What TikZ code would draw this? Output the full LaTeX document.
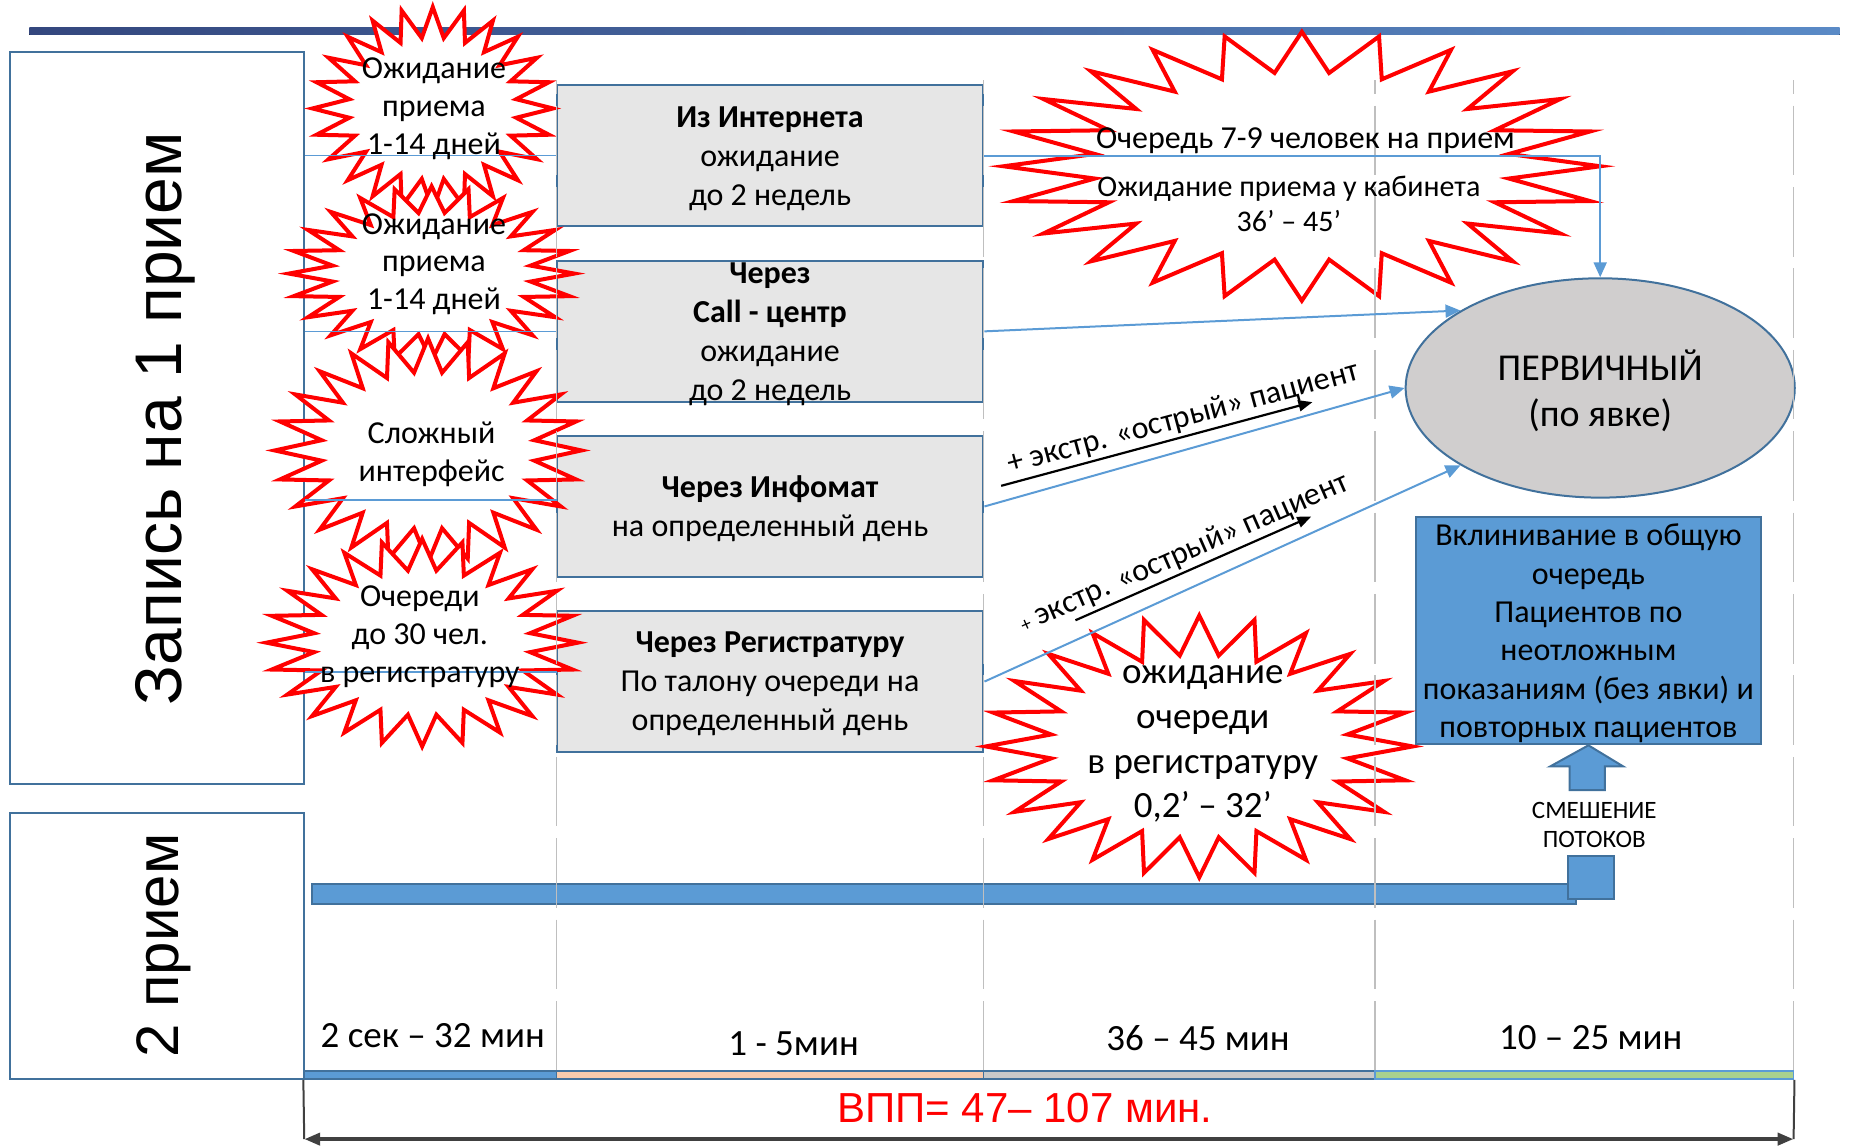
\documentclass[tikz,border=0pt]{standalone}
\usepackage{fontspec}
\setmainfont{Carlito}
\newfontfamily\arialfont{Liberation Sans}
\usepackage{tikz}
\usetikzlibrary{shapes,shapes.geometric,calc,arrows.meta,positioning}

\newcommand\px{0.5896pt}
\definecolor{frameblue}{HTML}{41719C}
\definecolor{fillblue}{HTML}{5B9BD5}
\definecolor{boxgray}{HTML}{E6E6E6}
\definecolor{ovalgray}{HTML}{D0CECE}
\definecolor{gridgray}{HTML}{BFBFBF}
\definecolor{peach}{HTML}{F8CBAD}
\definecolor{midgray}{HTML}{C9C9C9}
\definecolor{lightgreen}{HTML}{A9D18E}
\definecolor{rulenavy}{HTML}{34477E}
\definecolor{ruleblue}{HTML}{5A8AC6}
\definecolor{bracketgray}{HTML}{404040}

% 24-point star: center x, center y, x radius, y radius
\newcommand\burst[4]{%
  \draw[burst] (#1,{#2+#4})
    \foreach \i in {1,...,47}{
      -- ({#1+(1-0.3*mod(\i,2))*#3*cos(90+7.5*\i)},{#2+(1-0.3*mod(\i,2))*#4*sin(90+7.5*\i)})
    } -- cycle;}

\tikzset{
  sidebox/.style={draw=frameblue, line width=1pt, fill=white, minimum width=249.6*\px, inner sep=0pt},
  sidetext/.style={rotate=90, inner sep=0pt, font=\arialfont\fontsize{33}{40}\selectfont},
  rowbox/.style={draw=frameblue, line width=1pt, fill=boxgray, minimum width=362*\px, minimum height=120*\px, align=center, inner sep=0pt, text depth=0pt, font=\fontsize{16}{19.5}\selectfont},
  burst/.style={draw=red, line width=2pt, fill=white, line join=miter, miter limit=25},
  bursttext/.style={align=center, inner sep=0pt, font=\fontsize{16}{18.9}\selectfont},
  ovalnode/.style={ellipse, draw=frameblue, line width=1pt, fill=ovalgray, minimum width=330*\px, minimum height=186*\px, align=center, inner sep=0pt, text depth=0pt, font=\fontsize{19}{23}\selectfont},
  bluebox/.style={draw=frameblue, line width=1pt, fill=fillblue, align=center, inner sep=0pt, text depth=0pt, font=\fontsize{16}{19.2}\selectfont},
  blockfill/.style={draw=frameblue, line width=1pt, fill=fillblue, inner sep=0pt},
  colline/.style={draw=gridgray, line width=0.6pt, dash pattern=on 34.8pt off 5.9pt, dash phase=28pt},
  rowline/.style={draw=fillblue, line width=0.7pt},
  flow/.style={draw=fillblue, line width=1pt, -{Triangle[length=7.5pt,width=6.5pt]}},
  extraarrow/.style={draw=black, line width=1.1pt, -{Triangle[length=7pt,width=5.5pt]}},
  exlabel/.style={sloped, above=1.5pt, inner sep=0pt, font=\fontsize{16}{19}\selectfont},
  seg/.style={line width=0.9pt, minimum height=7*\px, inner sep=0pt},
  timelabel/.style={inner sep=0pt, font=\fontsize{18.5}{22}\selectfont},
  spanarrow/.style={draw=bracketgray, line width=2pt, {Triangle[length=8pt,width=6pt]}-{Triangle[length=8pt,width=6pt]}},
  bracketline/.style={draw=bracketgray, line width=1pt}
}

\begin{document}
\begin{tikzpicture}[x=\px, y=-\px]
\useasboundingbox (0,0) rectangle (1568,971);

% top rule
\fill[left color=rulenavy, right color=ruleblue] (25,23.5) rectangle (1560,29.5);

% left column
\node[sidebox, minimum height=621.2*\px] (lbox1) at (133.2,354.4) {};
\node[sidetext] (ltext1) at (140,355) {Запись на 1 прием};
\node[sidebox, minimum height=225.3*\px] (lbox2) at (133.2,802.4) {};
\node[sidetext, font=\arialfont\fontsize{30}{36}\selectfont] (ltext2) at (139,802) {2 прием};

% ways to book
\node[rowbox] (boxA) at (653,132) {\textbf{Из Интернета}\\ожидание\\до 2 недель};
\node[rowbox] (boxB) at (653,281) {\textbf{Через}\\\textbf{Call - центр}\\ожидание\\до 2 недель};
\node[rowbox] (boxC) at (653,429.5) {\textbf{Через Инфомат}\\на определенный день};
\node[rowbox] (boxD) at (653,578) {\textbf{Через Регистратуру}\\По талону очереди на\\определенный день};

% right part
\node[ovalnode] (oval) at (1357,329) {ПЕРВИЧНЫЙ\\(по явке)};
\node[bluebox, minimum width=292*\px, minimum height=192.4*\px] (wedge) at (1347,535)
  {Вклинивание в общую\\очередь\\Пациентов по\\неотложным\\показаниям (без явки) и\\повторных пациентов};
\draw[blockfill] (1331,670) -- (1331,650) -- (1314.5,650) -- (wedge.south) -- (1376.6,650) -- (1361,650) -- (1361,670) -- cycle;
\node[align=center, inner sep=0pt, font=\fontsize{12.5}{14.7}\selectfont] (mixlabel) at (1352,699.5) {СМЕШЕНИЕ\\ПОТОКОВ};
\node[blockfill, minimum width=1071.5*\px, minimum height=16.5*\px] (bar) at (800.75,758.25) {};
\node[blockfill, minimum width=39.5*\px, minimum height=37*\px] (joint) at (1349.25,744) {};

% stars
\burst{367}{92}{102}{86}
\burst{366}{232}{121}{74}
\burst{363}{382}{130}{95}
\burst{358}{545}{132}{88}
\burst{1104}{141}{253}{114}
\burst{1017}{633}{181}{111}

% column lines
\foreach \gx in {472,834,1166,1521}
  \draw[colline] (\gx,68) -- (\gx,915);

% connectors
\coordinate (rowC) at (472,424);
\coordinate (rowD) at (472,570);
\draw[rowline] (lbox1.east |- boxA.west) -- (boxA.west);
\draw[rowline] (lbox1.east |- boxB.west) -- (boxB.west);
\draw[rowline] (lbox1.east |- rowC) -- (rowC);
\draw[rowline] (lbox1.east |- rowD) -- (rowD);
\draw[flow] (boxA.east) -- (boxA.east -| oval.north) -- (oval.north);
\draw[flow] (boxB.east) -- (oval.151);
\draw[flow] (boxC.east) -- (oval.west);
\draw[flow] (boxD.east) -- (oval.209);

\coordinate (ex1s) at (849,412);
\coordinate (ex1e) at (1113,341);
\coordinate (ex2s) at (912,526);
\coordinate (ex2e) at (1112,438);
\draw[extraarrow] (ex1s) -- node[exlabel, pos=.6] (ex1lab) {+ экстр. «острый» пациент} (ex1e);
\draw[extraarrow] (ex2s) -- node[exlabel, pos=.49] (ex2lab) {{\fontsize{10}{12}\selectfont+} экстр. «острый» пациент} (ex2e);

% star texts
\node[bursttext] (wait1) at (368,92) {Ожидание\\приема\\1-14 дней};
\node[bursttext] (wait2) at (368,224) {Ожидание\\приема\\1-14 дней};
\node[bursttext] (iface) at (366,385) {Сложный\\интерфейс};
\node[bursttext] (queue) at (356,540) {Очереди\\до 30 чел.\\в регистратуру};
\node[bursttext] (cabq1) at (1107,119) {Очередь 7-9 человек на прием};
\node[bursttext, font=\fontsize{15}{17.7}\selectfont] (cabq2) at (1093,173) {Ожидание приема у кабинета\\36’ – 45’};
\node[bursttext, font=\fontsize{18.5}{22.4}\selectfont] (regq) at (1020,631) {ожидание\\очереди\\в регистратуру\\0,2’ – 32’};

% time scale
\node[timelabel] (t1) at (367,878) {2 сек – 32 мин};
\node[timelabel] (t2) at (673,885) {1 - 5мин};
\node[timelabel] (t3) at (1016,880) {36 – 45 мин};
\node[timelabel] (t4) at (1349,880) {10 – 25 мин};
\node[seg, draw=frameblue, fill=fillblue, minimum width=214*\px] (segA) at (365,911.5) {};
\node[seg, draw=frameblue, fill=peach, minimum width=362*\px] (segB) at (653,911.5) {};
\node[seg, draw=frameblue, fill=midgray, minimum width=332*\px] (segC) at (1000,911.5) {};
\node[seg, draw=fillblue, fill=lightgreen, minimum width=355*\px] (segD) at (1343.5,911.5) {};

\coordinate (brL) at (258,966);
\coordinate (brR) at (1521,966);
\draw[bracketline] (segA.south west) -- (brL);
\draw[bracketline] (segD.south east) -- (brR);
\draw[spanarrow] (brL) -- (brR);
\node[inner sep=0pt, text=red, font=\arialfont\fontsize{21}{25}\selectfont] (vpp) at (869,940) {ВПП= 47– 107 мин.};
\end{tikzpicture}
\end{document}
